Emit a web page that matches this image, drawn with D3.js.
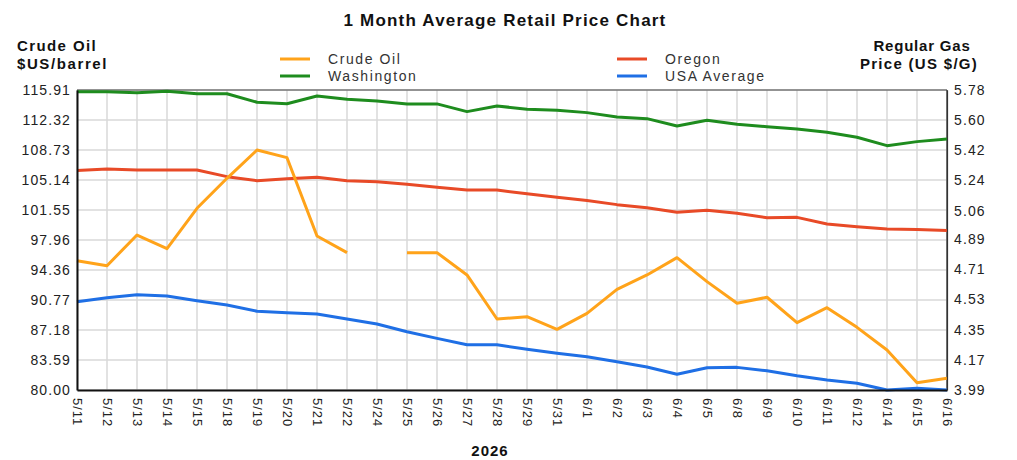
<!DOCTYPE html>
<html>
<head>
<meta charset="UTF-8" />
<title>1 Month Average Retail Price Chart</title>
<style>
  body { margin: 0; background: #fff; }
  svg text { font-family: "Liberation Sans", Arial, sans-serif; }
</style>
</head>
<body>
<div id="chart"></div>
<script src="https://cdnjs.cloudflare.com/ajax/libs/d3/7.8.5/d3.min.js"></script>
<script>
// data
const dates = ["5/11","5/12","5/13","5/14","5/15","5/18","5/19","5/20","5/21","5/22","5/24","5/25","5/26","5/27","5/28","5/29","5/31","6/1","6/2","6/3","6/4","6/5","6/8","6/9","6/10","6/11","6/12","6/14","6/15","6/16"];
const crudeOil = [95.48,94.88,98.55,96.91,101.75,105.34,108.73,107.81,98.43,96.44,null,96.44,96.44,93.77,88.50,88.78,87.26,89.18,92.05,93.77,95.84,92.97,90.38,91.10,88.06,89.85,87.50,84.79,80.87,81.40];
const washington = [5.770,5.770,5.764,5.772,5.758,5.758,5.707,5.698,5.744,5.725,5.714,5.697,5.697,5.651,5.685,5.665,5.659,5.645,5.619,5.609,5.565,5.599,5.575,5.561,5.547,5.528,5.498,5.448,5.472,5.488];
const oregon = [5.299,5.309,5.303,5.303,5.303,5.263,5.239,5.251,5.259,5.239,5.233,5.217,5.200,5.183,5.183,5.161,5.140,5.120,5.096,5.078,5.050,5.062,5.044,5.018,5.020,4.980,4.964,4.951,4.947,4.941];
const usaAverage = [4.517,4.541,4.559,4.551,4.523,4.497,4.460,4.451,4.443,4.414,4.384,4.338,4.298,4.260,4.260,4.233,4.209,4.189,4.159,4.127,4.084,4.123,4.125,4.105,4.075,4.050,4.030,3.990,4.000,3.990];
const leftTicks = [80.00,83.59,87.18,90.77,94.36,97.96,101.55,105.14,108.73,112.32,115.91];
const rightTicks = [3.99,4.17,4.35,4.53,4.71,4.89,5.06,5.24,5.42,5.60,5.78];

const W = 1017, H = 460;
const plot = {left: 77, right: 947, top: 90, bottom: 390};

const svg = d3.select('#chart').append('svg')
  .attr('width', W).attr('height', H);

const x = d3.scalePoint().domain(dates).range([plot.left, plot.right]);
const yLeft = d3.scaleLinear().domain([80, 115.91]).range([plot.bottom, plot.top]);
const yRight = d3.scaleLinear().domain([3.99, 5.78]).range([plot.bottom, plot.top]);

// grid
const grid = svg.append('g').attr('stroke', '#d9d9d9').attr('stroke-width', 1.5);
grid.selectAll('.vg').data(dates).enter().append('line')
  .attr('x1', d => x(d)).attr('x2', d => x(d))
  .attr('y1', plot.top).attr('y2', plot.bottom);
grid.selectAll('.hg').data(leftTicks).enter().append('line')
  .attr('x1', plot.left).attr('x2', plot.right)
  .attr('y1', d => yLeft(d)).attr('y2', d => yLeft(d));

// border
svg.append('line').attr('x1', plot.left).attr('x2', plot.right).attr('y1', plot.top).attr('y2', plot.top)
  .attr('stroke', '#444').attr('stroke-width', 1.2);
svg.append('line').attr('x1', plot.right).attr('x2', plot.right).attr('y1', plot.top).attr('y2', plot.bottom)
  .attr('stroke', '#333').attr('stroke-width', 1.2);

// series
const series = [
  {name: 'Washington', values: washington, color: '#1e8c1e', y: yRight},
  {name: 'Oregon', values: oregon, color: '#e84a27', y: yRight},
  {name: 'USA Average', values: usaAverage, color: '#1f6fe5', y: yRight},
  {name: 'Crude Oil', values: crudeOil, color: '#ffa31a', y: yLeft}
];
series.forEach(s => {
  const line = d3.line()
    .defined(d => d != null)
    .x((d, i) => x(dates[i]))
    .y(d => s.y(d));
  svg.append('path')
    .datum(s.values)
    .attr('fill', 'none')
    .attr('stroke', s.color)
    .attr('stroke-width', 3)
    .attr('stroke-linejoin', 'round')
    .attr('d', line);
});

// axes
const leftAxis = svg.append('g')
  .attr('transform', 'translate(' + plot.left + ',0)')
  .call(d3.axisLeft(yLeft).tickValues(leftTicks).tickFormat(d3.format('.2f')).tickSize(0).tickPadding(6));
const rightAxis = svg.append('g')
  .attr('transform', 'translate(' + plot.right + ',0)')
  .call(d3.axisRight(yRight).tickValues(rightTicks).tickFormat(d3.format('.2f')).tickSize(0).tickPadding(7));
const bottomAxis = svg.append('g')
  .attr('transform', 'translate(0,' + plot.bottom + ')')
  .call(d3.axisBottom(x).tickSize(0).tickPadding(0));

[leftAxis, rightAxis, bottomAxis].forEach(a => {
  a.selectAll('text').attr('font-size', 14).attr('fill', '#222')
    .attr('letter-spacing', 1.1)
    .style('font-family', '"Liberation Sans", Arial, sans-serif');
});
leftAxis.select('.domain').attr('stroke', '#111').attr('stroke-width', 2);
rightAxis.select('.domain').attr('stroke', '#333').attr('stroke-width', 1.2);
bottomAxis.select('.domain').attr('stroke', '#111').attr('stroke-width', 2);
bottomAxis.selectAll('text')
  .attr('font-size', 13)
  .attr('letter-spacing', 1)
  .attr('text-anchor', 'start')
  .attr('transform', 'rotate(90)')
  .attr('x', 8).attr('y', 0).attr('dy', '0.35em');

// titles
const titleText = (tx, ty, size, spacing, anchor, str) =>
  svg.append('text').attr('x', tx).attr('y', ty).attr('text-anchor', anchor)
    .attr('font-size', size).attr('font-weight', 'bold').attr('fill', '#111')
    .attr('letter-spacing', spacing).text(str);

titleText(505, 26, 17, 1.2, 'middle', '1 Month Average Retail Price Chart');
titleText(17, 51, 15, 1.4, 'start', 'Crude Oil');
titleText(17, 69, 15, 1.6, 'start', '$US/barrel');
titleText(922, 51, 15, 0.8, 'middle', 'Regular Gas');
titleText(919, 69, 15, 1.3, 'middle', 'Price (US $/G)');
titleText(490, 456, 15, 1, 'middle', '2026');

// legend
const legendItems = [
  {name: 'Crude Oil', color: '#ffa31a', lx: 280, ly: 59},
  {name: 'Washington', color: '#1e8c1e', lx: 280, ly: 76},
  {name: 'Oregon', color: '#e84a27', lx: 617, ly: 59},
  {name: 'USA Average', color: '#1f6fe5', lx: 617, ly: 76}
];
const legend = svg.append('g');
legend.selectAll('line').data(legendItems).enter().append('line')
  .attr('x1', d => d.lx).attr('x2', d => d.lx + 30)
  .attr('y1', d => d.ly).attr('y2', d => d.ly)
  .attr('stroke', d => d.color).attr('stroke-width', 3);
legend.selectAll('text').data(legendItems).enter().append('text')
  .attr('x', d => d.lx + 48).attr('y', d => d.ly + 5)
  .attr('font-size', 14).attr('fill', '#333')
  .attr('letter-spacing', 1.6)
  .text(d => d.name);
</script>
</body>
</html>
